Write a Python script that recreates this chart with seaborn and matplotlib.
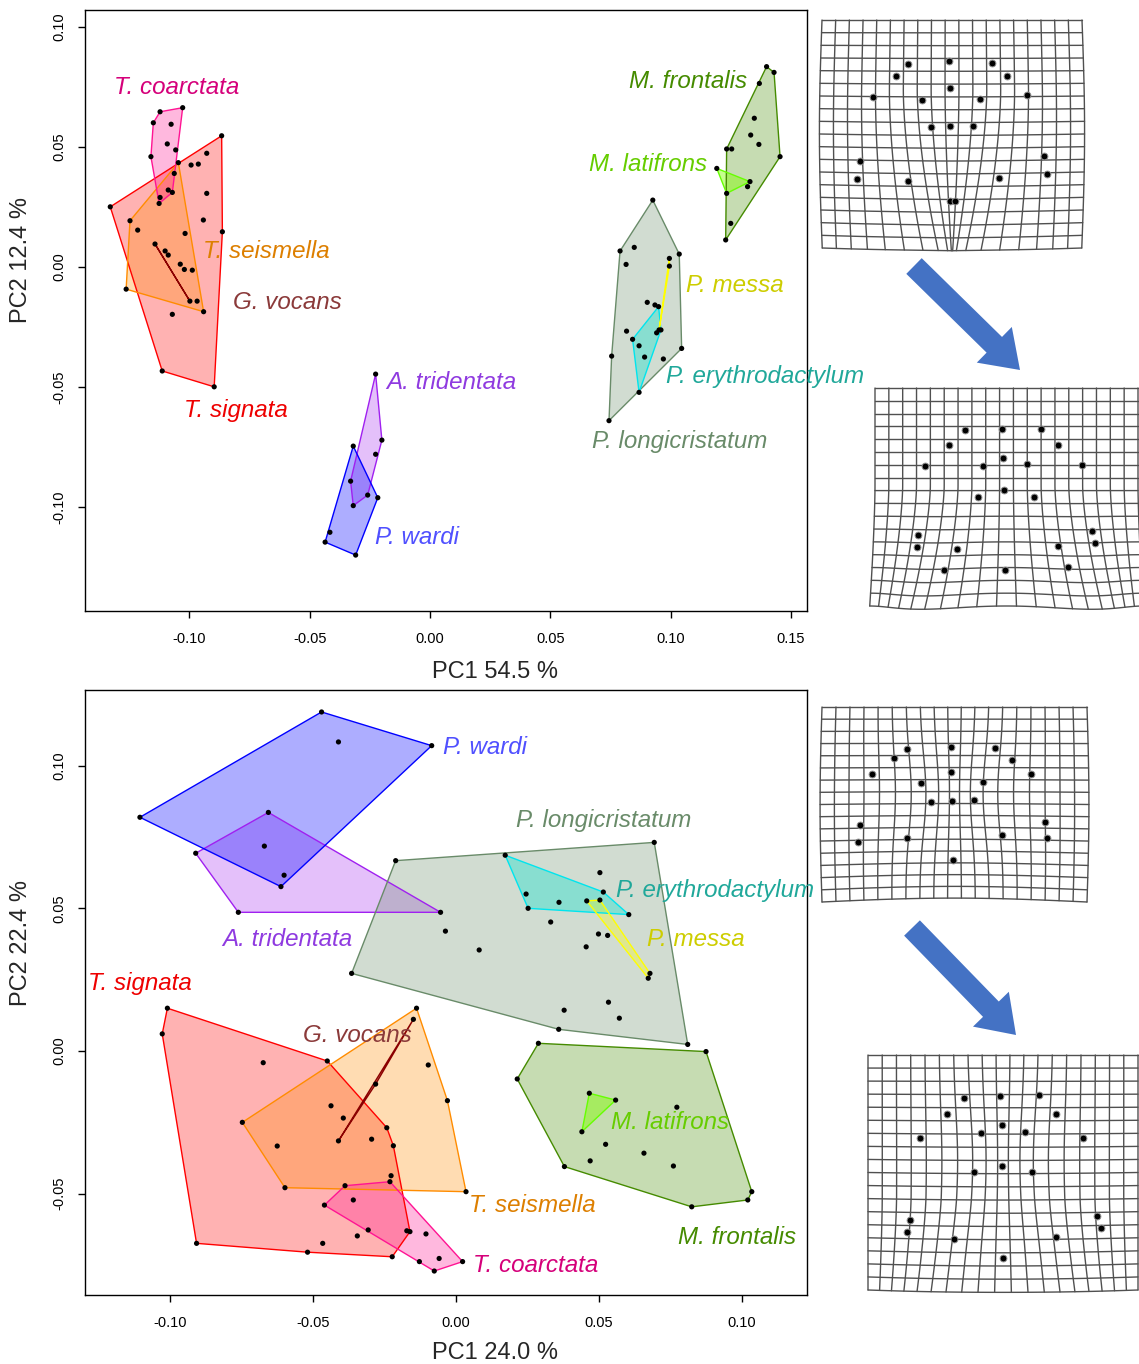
import numpy as np
import pandas as pd
import matplotlib
matplotlib.use("Agg")
import matplotlib.pyplot as plt
from matplotlib.patches import FancyArrow
import seaborn as sns

# ---------------- data: PCA panel 1 (PC1 54.5 %, PC2 12.4 %) ----------------
top_species = ["T. signata", "T. seismella", "T. coarctata", "G. vocans", "A. tridentata",
               "P. wardi", "P. longicristatum", "P. erythrodactylum", "P. messa",
               "M. frontalis", "M. latifrons"]

top_signata_x = [-0.0866, -0.0863, -0.0897, -0.1113, -0.1329, -0.0928, -0.0963, -0.0993,
                 -0.0928, -0.0942, -0.1071, -0.1018, -0.1038, -0.1021, -0.0988, -0.1101]
top_signata_y = [0.0547, 0.0147, -0.0499, -0.0433, 0.0251, 0.0474, 0.0429, 0.0425,
                 0.0307, 0.0196, -0.0197, 0.0140, 0.0012, -0.0010, -0.0013, 0.0067]
top_seismella_x = [-0.1046, -0.0941, -0.1263, -0.1247, -0.1215, -0.0968, -0.1088]
top_seismella_y = [0.0435, -0.0186, -0.0092, 0.0193, 0.0154, -0.0142, 0.0050]
top_coarctata_x = [-0.1122, -0.1028, -0.1150, -0.1076, -0.1092, -0.1057, -0.1160,
                   -0.1063, -0.1088, -0.1071, -0.1122, -0.1126]
top_coarctata_y = [0.0647, 0.0664, 0.0601, 0.0595, 0.0513, 0.0488, 0.0460,
                   0.0390, 0.0321, 0.0311, 0.0290, 0.0265]
top_vocans_x = [-0.1143, -0.0998]
top_vocans_y = [0.0096, -0.0142]
top_tridentata_x = [-0.0226, -0.0200, -0.0226, -0.0259, -0.0319, -0.0330]
top_tridentata_y = [-0.0446, -0.0721, -0.0780, -0.0950, -0.0994, -0.0892]
top_wardi_x = [-0.0319, -0.0217, -0.0309, -0.0436, -0.0416]
top_wardi_y = [-0.0746, -0.0961, -0.1200, -0.1146, -0.1105]
top_longi_x = [0.0926, 0.0790, 0.0849, 0.1036, 0.0815, 0.1046, 0.0970, 0.0744,
               0.0755, 0.0903, 0.0817, 0.0869, 0.0892, 0.0935]
top_longi_y = [0.0279, 0.0067, 0.0082, 0.0054, 0.0011, -0.0339, -0.0383, -0.0640,
               -0.0371, -0.0147, -0.0267, -0.0328, -0.0375, -0.0158]
top_erythro_x = [0.0950, 0.0960, 0.0942, 0.0842, 0.0869]
top_erythro_y = [-0.0165, -0.0262, -0.0274, -0.0301, -0.0522]
top_messa_x = [0.0995, 0.0995, 0.0952]
top_messa_y = [0.0036, 0.0004, -0.0262]
top_frontalis_x = [0.1399, 0.1430, 0.1369, 0.1348, 0.1333, 0.1367, 0.1233, 0.1254,
                   0.1455, 0.1320, 0.1250, 0.1229]
top_frontalis_y = [0.0835, 0.0811, 0.0765, 0.0620, 0.0550, 0.0511, 0.0492, 0.0492,
                   0.0460, 0.0335, 0.0182, 0.0113]
top_latifrons_x = [0.1192, 0.1330, 0.1233]
top_latifrons_y = [0.0411, 0.0356, 0.0307]

top_label_x = [-0.1022, -0.0943, -0.1313, -0.0819, -0.0183, -0.0229, 0.0673, 0.0981,
               0.1064, 0.0827, 0.0661]
top_label_y = [-0.0596, 0.0063, 0.0750, -0.0146, -0.0483, -0.1125, -0.0725, -0.0454,
               -0.0075, 0.0775, 0.0429]

# ---------------- data: PCA panel 2 (PC1 24.0 %, PC2 22.4 %) ----------------
bot_signata_x = [-0.1009, -0.1027, -0.0907, -0.0223, -0.0161, -0.0219, -0.0242, -0.0450,
                 -0.0674, -0.0437, -0.0394, -0.0625, -0.0295, -0.0519, -0.0466, -0.0345, -0.0227]
bot_signata_y = [0.0150, 0.0060, -0.0674, -0.0721, -0.0633, -0.0332, -0.0269, -0.0035,
                 -0.0041, -0.0192, -0.0235, -0.0333, -0.0309, -0.0705, -0.0674, -0.0648, -0.0437]
bot_seismella_x = [-0.0138, -0.0097, -0.0030, 0.0035, -0.0598, -0.0747]
bot_seismella_y = [0.0150, -0.0049, -0.0174, -0.0493, -0.0479, -0.0250]
bot_coarctata_x = [-0.0460, -0.0388, -0.0231, -0.0172, 0.0023, -0.0076, -0.0128,
                   -0.0059, -0.0105, -0.0307, -0.0359]
bot_coarctata_y = [-0.0540, -0.0472, -0.0458, -0.0630, -0.0738, -0.0771, -0.0738,
                   -0.0727, -0.0641, -0.0627, -0.0522]
bot_vocans_x = [-0.0149, -0.0281, -0.0411]
bot_vocans_y = [0.0111, -0.0116, -0.0315]
bot_tridentata_x = [-0.0656, -0.0910, -0.0761, -0.0054, -0.0601]
bot_tridentata_y = [0.0836, 0.0693, 0.0486, 0.0486, 0.0616]
bot_wardi_x = [-0.0470, -0.0085, -0.0612, -0.1105, -0.0411, -0.0670]
bot_wardi_y = [0.1188, 0.1070, 0.0576, 0.0819, 0.1083, 0.0718]
bot_longi_x = [-0.0211, 0.0693, 0.0810, 0.0359, -0.0365, -0.0037, 0.0081, 0.0331,
               0.0498, 0.0530, 0.0455, 0.0378, 0.0533, 0.0571, 0.0503]
bot_longi_y = [0.0667, 0.0731, 0.0023, 0.0076, 0.0272, 0.0420, 0.0354, 0.0452,
               0.0410, 0.0405, 0.0365, 0.0143, 0.0171, 0.0115, 0.0625]
bot_erythro_x = [0.0172, 0.0245, 0.0252, 0.0360, 0.0515, 0.0604]
bot_erythro_y = [0.0686, 0.0550, 0.0500, 0.0521, 0.0557, 0.0478]
bot_messa_x = [0.0457, 0.0503, 0.0678, 0.0672]
bot_messa_y = [0.0526, 0.0529, 0.0272, 0.0255]
bot_frontalis_x = [0.0288, 0.0874, 0.1034, 0.1020, 0.0824, 0.0379, 0.0214, 0.0772,
                   0.0523, 0.0657, 0.0760, 0.0469]
bot_frontalis_y = [0.0027, -0.0002, -0.0493, -0.0522, -0.0546, -0.0405, -0.0098, -0.0197,
                   -0.0327, -0.0358, -0.0403, -0.0385]
bot_latifrons_x = [0.0466, 0.0558, 0.0440]
bot_latifrons_y = [-0.0148, -0.0172, -0.0283]

bot_label_x = [-0.1287, 0.0045, 0.0059, -0.0535, -0.0818, -0.0045, 0.0210, 0.0559,
               0.0668, 0.0776, 0.0542]
bot_label_y = [0.0238, -0.0543, -0.0753, 0.0056, 0.0389, 0.1065, 0.0809, 0.0561,
               0.0389, -0.0652, -0.0249]

# ---------------- deformation grid landmarks (fractions of grid box, y from top) ----------------
lm1_x = [0.331, 0.490, 0.652, 0.283, 0.711, 0.493, 0.195, 0.383, 0.608, 0.790, 0.418,
         0.494, 0.580, 0.146, 0.852, 0.134, 0.332, 0.679, 0.866, 0.494, 0.510]
lm1_y = [0.193, 0.182, 0.188, 0.245, 0.245, 0.297, 0.336, 0.350, 0.345, 0.331, 0.471,
         0.467, 0.464, 0.617, 0.597, 0.699, 0.706, 0.692, 0.676, 0.793, 0.793]
lm2_x = [0.343, 0.483, 0.630, 0.280, 0.697, 0.486, 0.190, 0.409, 0.577, 0.787, 0.390,
         0.490, 0.603, 0.163, 0.826, 0.159, 0.310, 0.694, 0.835, 0.262, 0.494, 0.735]
lm2_y = [0.193, 0.188, 0.186, 0.263, 0.263, 0.321, 0.356, 0.356, 0.349, 0.354, 0.502,
         0.470, 0.500, 0.675, 0.658, 0.728, 0.737, 0.723, 0.711, 0.833, 0.835, 0.821]
lm3_x = [0.322, 0.486, 0.654, 0.270, 0.716, 0.487, 0.188, 0.373, 0.607, 0.788, 0.411,
         0.489, 0.575, 0.144, 0.840, 0.137, 0.320, 0.678, 0.849, 0.493]
lm3_y = [0.213, 0.203, 0.211, 0.262, 0.271, 0.334, 0.344, 0.391, 0.383, 0.344, 0.486,
         0.482, 0.479, 0.604, 0.590, 0.691, 0.670, 0.658, 0.670, 0.787]
lm4_x = [0.355, 0.489, 0.634, 0.291, 0.698, 0.495, 0.192, 0.417, 0.581, 0.797, 0.394,
         0.498, 0.608, 0.155, 0.847, 0.143, 0.317, 0.698, 0.862, 0.500]
lm4_y = [0.183, 0.175, 0.172, 0.253, 0.253, 0.297, 0.355, 0.330, 0.327, 0.355, 0.497,
         0.472, 0.497, 0.700, 0.683, 0.752, 0.783, 0.775, 0.738, 0.863]

# ---------------- styles ----------------
edge_colors = {"T. signata": "#FF0000", "T. seismella": "#FF8C00", "T. coarctata": "#FF1493",
               "G. vocans": "#8B0000", "A. tridentata": "#A020F0", "P. wardi": "#0000FF",
               "P. longicristatum": "#698B69", "P. erythrodactylum": "#00E5EE",
               "P. messa": "#FFFF00", "M. frontalis": "#458B00", "M. latifrons": "#66FF00"}
fill_colors = {"T. signata": ("#FF0000", 0.30), "T. seismella": ("#FF8C00", 0.30),
               "T. coarctata": ("#FF1493", 0.30), "G. vocans": ("#8B0000", 0.30),
               "A. tridentata": ("#A020F0", 0.28), "P. wardi": ("#0000FF", 0.32),
               "P. longicristatum": ("#698B69", 0.30), "P. erythrodactylum": ("#40E0D0", 0.50),
               "P. messa": ("#FFFF00", 0.30), "M. frontalis": ("#458B00", 0.30),
               "M. latifrons": ("#7FFF00", 0.45)}
label_colors = {"T. signata": "#EE0000", "T. seismella": "#DD7F00", "T. coarctata": "#D5007A",
                "G. vocans": "#8B3A3A", "A. tridentata": "#8F3AE0", "P. wardi": "#5050FF",
                "P. longicristatum": "#698B69", "P. erythrodactylum": "#20A89A",
                "P. messa": "#CDCD00", "M. frontalis": "#458B00", "M. latifrons": "#66CD00"}

top_xs = [top_signata_x, top_seismella_x, top_coarctata_x, top_vocans_x, top_tridentata_x,
          top_wardi_x, top_longi_x, top_erythro_x, top_messa_x, top_frontalis_x, top_latifrons_x]
top_ys = [top_signata_y, top_seismella_y, top_coarctata_y, top_vocans_y, top_tridentata_y,
          top_wardi_y, top_longi_y, top_erythro_y, top_messa_y, top_frontalis_y, top_latifrons_y]
bot_xs = [bot_signata_x, bot_seismella_x, bot_coarctata_x, bot_vocans_x, bot_tridentata_x,
          bot_wardi_x, bot_longi_x, bot_erythro_x, bot_messa_x, bot_frontalis_x, bot_latifrons_x]
bot_ys = [bot_signata_y, bot_seismella_y, bot_coarctata_y, bot_vocans_y, bot_tridentata_y,
          bot_wardi_y, bot_longi_y, bot_erythro_y, bot_messa_y, bot_frontalis_y, bot_latifrons_y]

sns.set_style("ticks")
plt.rcParams["font.family"] = ["Liberation Sans", "DejaVu Sans"]
plt.rcParams["axes.unicode_minus"] = False


def hull(px, py):
    pts = sorted(set(zip(px, py)))
    if len(pts) <= 2:
        return pts

    def cross(o, a, b):
        return (a[0] - o[0]) * (b[1] - o[1]) - (a[1] - o[1]) * (b[0] - o[0])
    lower, upper = [], []
    for p in pts:
        while len(lower) >= 2 and cross(lower[-2], lower[-1], p) <= 0:
            lower.pop()
        lower.append(p)
    for p in reversed(pts):
        while len(upper) >= 2 and cross(upper[-2], upper[-1], p) <= 0:
            upper.pop()
        upper.append(p)
    return lower[:-1] + upper[:-1]


def draw_panel(ax, xs, ys, lab_x, lab_y):
    rows = []
    for sp, x, y in zip(top_species, xs, ys):
        h = hull(x, y)
        hx = [p[0] for p in h] + [h[0][0]]
        hy = [p[1] for p in h] + [h[0][1]]
        fc, al = fill_colors[sp]
        if len(h) >= 3:
            ax.fill(hx, hy, color=fc, alpha=al, lw=0, zorder=2)
        ax.plot(hx, hy, color=edge_colors[sp], lw=1.0, zorder=3)
        for a, b in zip(x, y):
            rows.append({"PC1": a, "PC2": b, "species": sp})
    df = pd.DataFrame(rows)
    sns.scatterplot(data=df, x="PC1", y="PC2", color="black", s=14, edgecolor="none",
                    ax=ax, zorder=5, legend=False)
    for sp, lx, ly in zip(top_species, lab_x, lab_y):
        ax.text(lx, ly, sp, color=label_colors[sp], fontsize=17.4, style="italic",
                ha="left", va="center", zorder=6)
    for s in ax.spines.values():
        s.set_visible(True)
        s.set_color("black")
        s.set_linewidth(1.0)
    ax.tick_params(direction="out", length=5, width=1, labelsize=10.5, colors="black")
    ax.tick_params(axis="x", pad=10)
    ax.tick_params(axis="y", pad=8.5)


fig = plt.figure(figsize=(11.39, 13.64), dpi=100)
W, H = 1139.0, 1364.0

ax1 = fig.add_axes([85 / W, 1 - 611 / H, 722 / W, 601 / H])
draw_panel(ax1, top_xs, top_ys, top_label_x, top_label_y)
ax1.set_xlim(-0.1434, 0.1567)
ax1.set_ylim(-0.1433, 0.1071)
ax1.set_xticks([-0.10, -0.05, 0.00, 0.05, 0.10, 0.15])
ax1.set_xticklabels(["-0.10", "-0.05", "0.00", "0.05", "0.10", "0.15"])
ax1.set_yticks([-0.10, -0.05, 0.00, 0.05, 0.10])
ax1.set_yticklabels(["-0.10", "-0.05", "0.00", "0.05", "0.10"], rotation=90, va="center")
ax1.set_xlabel("PC1 54.5 %", fontsize=17)
ax1.set_ylabel("PC2 12.4 %", fontsize=17)
ax1.xaxis.set_label_coords(0.568, -0.084)
ax1.yaxis.set_label_coords(-0.074, 0.584)

ax2 = fig.add_axes([85 / W, 1 - 1295 / H, 722 / W, 605 / H])
draw_panel(ax2, bot_xs, bot_ys, bot_label_x, bot_label_y)
ax2.set_xlim(-0.1297, 0.1227)
ax2.set_ylim(-0.0855, 0.1265)
ax2.set_xticks([-0.10, -0.05, 0.00, 0.05, 0.10])
ax2.set_xticklabels(["-0.10", "-0.05", "0.00", "0.05", "0.10"])
ax2.set_yticks([-0.05, 0.00, 0.05, 0.10])
ax2.set_yticklabels(["-0.05", "0.00", "0.05", "0.10"], rotation=90, va="center")
ax2.set_xlabel("PC1 24.0 %", fontsize=17)
ax2.set_ylabel("PC2 22.4 %", fontsize=17)
ax2.xaxis.set_label_coords(0.568, -0.078)
ax2.yaxis.set_label_coords(-0.074, 0.582)

# ---------------- overlay in pixel coordinates: deformation grids & arrows ----------------
ov = fig.add_axes([0, 0, 1, 1], zorder=10)
ov.set_xlim(0, W)
ov.set_ylim(H, 0)
ov.axis("off")
ov.patch.set_alpha(0)


def warp1(u, v):
    t = np.clip((v - 0.3) / 0.7, 0, 1) ** 1.6
    w = u - 0.5
    x = u - w * 0.92 * t * np.exp(-(w / 0.2) ** 2)
    x = x + 0.02 * np.sin(np.pi * v) * w
    y = v + 0.012 * np.sin(np.pi * u) * v
    return x, y


def warp2(u, v):
    c = np.clip((v - 0.45) / 0.55, 0, 1) ** 1.5
    x = u - 0.065 * np.sin(2 * np.pi * u) * c + (u - 0.5) * 0.04 * c
    y = v + 0.015 * np.sin(2 * np.pi * u) ** 2 * c
    return x, y


def warp3(u, v):
    w = u - 0.5
    x = u - w * 0.3 * np.exp(-(w / 0.2) ** 2) * np.exp(-((v - 0.45) / 0.3) ** 2)
    x = x + 0.015 * np.sin(np.pi * v) * w
    y = v - 0.02 * np.sin(np.pi * u) * v ** 2
    return x, y


def warp4(u, v):
    w = u - 0.5
    x = u - w * 0.25 * np.exp(-(w / 0.18) ** 2) * np.exp(-((v - 0.45) / 0.3) ** 2)
    c = np.clip((v - 0.6) / 0.4, 0, 1) ** 1.5
    x = x - 0.03 * np.sin(2 * np.pi * u) * c
    y = v + 0.01 * np.sin(np.pi * u) * v
    return x, y


def draw_grid(box, nc, nr, warp, lx, ly):
    x0, x1, y0, y1 = box
    s = np.linspace(0, 1, 80)
    for i in range(nc + 1):
        u = np.full_like(s, i / nc)
        gx, gy = warp(u, s)
        ov.plot(x0 + gx * (x1 - x0), y0 + gy * (y1 - y0), color="#505050", lw=1.0)
    for j in range(nr + 1):
        v = np.full_like(s, j / nr)
        gx, gy = warp(s, v)
        ov.plot(x0 + gx * (x1 - x0), y0 + gy * (y1 - y0), color="#505050", lw=1.0)
    px = x0 + np.array(lx) * (x1 - x0)
    py = y0 + np.array(ly) * (y1 - y0)
    ov.scatter(px, py, s=24, color="black", edgecolor="#909090", linewidth=0.7, zorder=12)


draw_grid((822, 1082, 20, 248), 19, 18, warp1, lm1_x, lm1_y)
draw_grid((875, 1138, 388, 606), 19, 17, warp2, lm2_x, lm2_y)
draw_grid((822, 1087, 707, 902), 19, 16, warp3, lm3_x, lm3_y)
draw_grid((868, 1138, 1055, 1290), 19, 18, warp4, lm4_x, lm4_y)

for (ax_, ay_, bx_, by_) in [(914, 266, 1020, 370), (912, 928, 1016, 1035)]:
    ov.add_patch(FancyArrow(ax_, ay_, bx_ - ax_, by_ - ay_, width=22, head_width=50,
                            head_length=36, length_includes_head=True,
                            color="#4472C4", lw=0))

fig.savefig("out.png", dpi=100)
